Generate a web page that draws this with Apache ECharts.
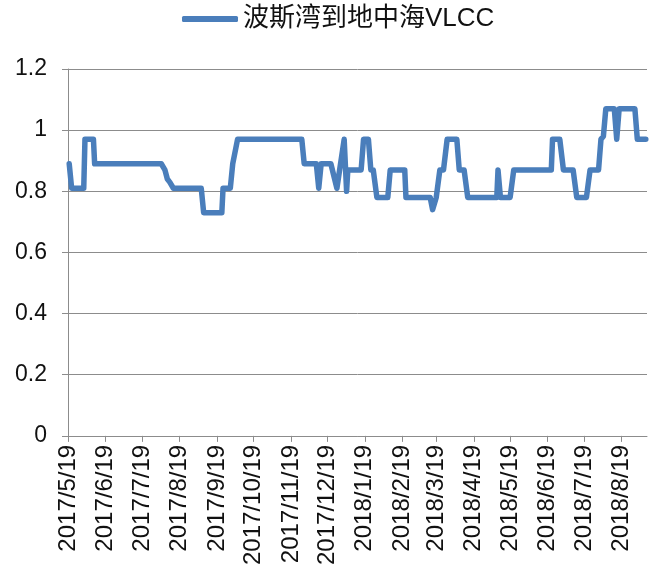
<!DOCTYPE html>
<html>
<head>
<meta charset="utf-8">
<title>波斯湾到地中海VLCC</title>
<script src="https://cdn.jsdelivr.net/npm/echarts@6/dist/echarts.min.js"></script>
<style>
  html, body { margin: 0; padding: 0; background: #fff; }
  #chart { width: 654px; height: 568px; }
</style>
</head>
<body>
<div id="chart"></div>
<script>
// axis range and the monthly tick labels
const startDate = '2017/5/19';
const endDate = '2018/9/9';
const tickLabels = ['2017/5/19', '2017/6/19', '2017/7/19', '2017/8/19', '2017/9/19', '2017/10/19',
  '2017/11/19', '2017/12/19', '2018/1/19', '2018/2/19', '2018/3/19', '2018/4/19',
  '2018/5/19', '2018/6/19', '2018/7/19', '2018/8/19'];
const yTicks = [0, 0.2, 0.4, 0.6, 0.8, 1, 1.2];

// series: dates where the rate changes, and its value there
const pointDates = ['2017/5/20', '2017/5/22', '2017/6/1', '2017/6/2', '2017/6/9', '2017/6/10',
  '2017/8/4', '2017/8/7', '2017/8/9', '2017/8/11', '2017/8/14', '2017/9/6', '2017/9/8',
  '2017/9/23', '2017/9/24', '2017/9/30', '2017/10/2', '2017/10/3', '2017/10/6', '2017/11/28',
  '2017/11/30', '2017/12/10', '2017/12/12', '2017/12/14', '2017/12/22', '2017/12/27',
  '2018/1/2', '2018/1/4', '2018/1/5', '2018/1/16', '2018/1/18', '2018/1/22', '2018/1/24',
  '2018/1/26', '2018/1/29', '2018/2/7', '2018/2/9', '2018/2/21', '2018/2/22', '2018/3/14',
  '2018/3/16', '2018/3/19', '2018/3/22', '2018/3/25', '2018/3/28', '2018/4/5', '2018/4/7',
  '2018/4/11', '2018/4/14', '2018/5/8', '2018/5/9', '2018/5/11', '2018/5/19', '2018/5/22',
  '2018/6/22', '2018/6/23', '2018/6/29', '2018/7/2', '2018/7/10', '2018/7/13', '2018/7/21',
  '2018/7/24', '2018/7/31', '2018/8/2', '2018/8/4', '2018/8/6', '2018/8/13', '2018/8/15',
  '2018/8/17', '2018/8/30', '2018/9/1', '2018/9/8'];
const pointValues = [0.89, 0.81, 0.81, 0.97, 0.97, 0.89,
  0.89, 0.87, 0.84, 0.83, 0.81, 0.81, 0.73,
  0.73, 0.81, 0.81, 0.89, 0.89, 0.97, 0.97,
  0.89, 0.89, 0.81, 0.89, 0.89, 0.81,
  0.97, 0.80, 0.87, 0.87, 0.97, 0.97, 0.87,
  0.87, 0.78, 0.78, 0.87, 0.87, 0.78, 0.78,
  0.74, 0.78, 0.87, 0.87, 0.97, 0.97, 0.87,
  0.87, 0.78, 0.78, 0.87, 0.78, 0.78, 0.87,
  0.87, 0.97, 0.97, 0.87, 0.87, 0.78, 0.78,
  0.87, 0.87, 0.97, 0.98, 1.07, 1.07, 0.97,
  1.07, 1.07, 0.97, 0.97];

function fmt(d) {
  return d.getFullYear() + '/' + (d.getMonth() + 1) + '/' + d.getDate();
}

// one category per day
const categories = [];
for (let d = new Date(startDate); d <= new Date(endDate); d.setDate(d.getDate() + 1)) {
  categories.push(fmt(d));
}

const tickSet = new Set(tickLabels);
const isTick = (idx, val) => tickSet.has(val);
const font = 'Liberation Sans, Arial, Noto Sans CJK SC, sans-serif';

const chart = echarts.init(document.getElementById('chart'));
chart.setOption({
  animation: false,
  backgroundColor: '#fff',
  textStyle: { fontFamily: font },
  legend: {
    top: 1,
    left: 177,
    icon: 'roundRect',
    itemWidth: 56,
    itemHeight: 6,
    itemGap: 10,
    textStyle: { fontSize: 26, color: '#111', fontFamily: font },
    data: ['波斯湾到地中海VLCC']
  },
  grid: {
    left: 68,
    right: 7,
    top: 69,
    bottom: 131
  },
  xAxis: {
    type: 'category',
    data: categories,
    boundaryGap: false,
    axisLine: { lineStyle: { color: '#8c8c8c', width: 1 } },
    axisTick: { show: true, interval: isTick, length: 6, lineStyle: { color: '#8c8c8c' } },
    axisLabel: {
      interval: isTick,
      rotate: 90,
      margin: 9,
      fontSize: 24,
      color: '#111',
      fontFamily: font
    },
    splitLine: { show: false }
  },
  yAxis: {
    type: 'value',
    min: yTicks[0],
    max: yTicks[yTicks.length - 1],
    interval: 0.2,
    axisLine: { show: true, lineStyle: { color: '#8c8c8c', width: 1 } },
    axisTick: { show: true, length: 6, lineStyle: { color: '#8c8c8c' } },
    axisLabel: {
      fontSize: 23,
      color: '#111',
      margin: 21,
      fontFamily: font,
      formatter: v => String(Math.round(v * 10) / 10)
    },
    splitLine: { show: true, lineStyle: { color: '#8c8c8c', width: 1 } }
  },
  series: [{
    name: '波斯湾到地中海VLCC',
    type: 'line',
    showSymbol: false,
    symbol: 'none',
    lineStyle: { color: '#4a7ebb', width: 5.5, join: 'round', cap: 'round' },
    itemStyle: { color: '#4a7ebb' },
    data: pointDates.map((d, i) => [d, pointValues[i]])
  }]
});
</script>
</body>
</html>
